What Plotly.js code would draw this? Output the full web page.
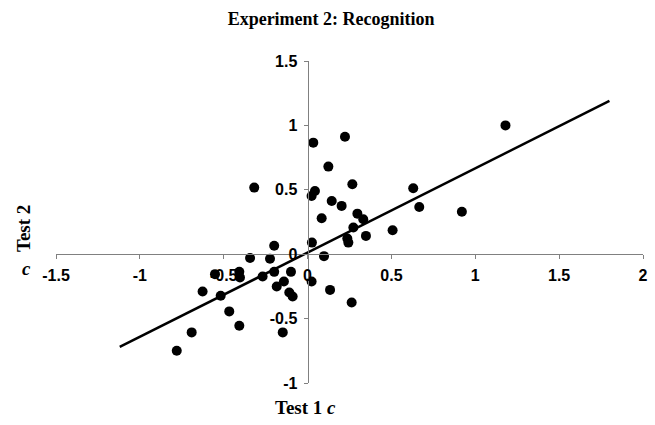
<!DOCTYPE html>
<html>
<head>
<meta charset="utf-8">
<script src="https://cdn.plot.ly/plotly-3.0.1.min.js"></script>
<style>
  html, body { margin: 0; padding: 0; background: #fff; }
  #chart { width: 655px; height: 425px; }
</style>
</head>
<body>
<div id="chart"></div>
<script>
// Test 1 c (x) and Test 2 c (y) for each participant
const test1C = [
  0.034, 0.223, 0.124, -0.318, 0.044, 0.024, 0.267, 0.144, 0.203, 0.084,
  0.297, 0.332, 0.273, 0.237, 0.243, 0.348, 0.507, 0.630, 0.666, 0.026,
  -0.199, 0.098, -0.343, -0.224,
  0.92, 1.18,
  -0.552, -0.407, -0.403, -0.268, -0.199, -0.099, 0.024, 0.134, 0.263, -0.184,
  -0.141, -0.109, -0.089, -0.626, -0.518, -0.467, -0.407, -0.148, -0.691, -0.78
];
const test2C = [
  0.866, 0.912, 0.680, 0.517, 0.491, 0.452, 0.543, 0.413, 0.375, 0.279,
  0.315, 0.271, 0.207, 0.122, 0.090, 0.142, 0.186, 0.512, 0.367, 0.090,
  0.065, -0.015, -0.030, -0.035,
  0.33, 1.00,
  -0.155, -0.137, -0.181, -0.173, -0.137, -0.137, -0.212, -0.277, -0.375, -0.251,
  -0.212, -0.297, -0.328, -0.289, -0.323, -0.444, -0.556, -0.607, -0.607, -0.75
];
// Regression line end points
const fitX = [-1.12, 1.80];
const fitY = [-0.72, 1.19];

// Axis ticks
const xTickVals = [-1.5, -1, -0.5, 0, 0.5, 1, 1.5, 2];
const xTickText = ["-1.5", "-1", "-0.5", "0", "0.5", "1", "1.5", "2"];
const yTickVals = [-1, -0.5, 0, 0.5, 1, 1.5];
const yTickText = ["-1", "-0.5", "0", "0.5", "1", "1.5"];

const tickFont = { family: "Liberation Sans, Arial, sans-serif", size: 16, color: "#000", weight: "bold" };
const serif = "Liberation Serif, Times New Roman, serif";

const traces = [
  {
    x: test1C, y: test2C, type: "scatter", mode: "markers",
    marker: { color: "#000", size: 10 },
    hoverinfo: "none"
  },
  {
    x: fitX, y: fitY, type: "scatter", mode: "lines",
    line: { color: "#000", width: 2.5 },
    hoverinfo: "none"
  }
];

const axisCommon = {
  showgrid: false, zeroline: false, showline: true,
  linecolor: "#808080", linewidth: 1,
  ticks: "outside", ticklen: 4, tickcolor: "#808080", tickwidth: 1,
  tickfont: tickFont, anchor: "free", fixedrange: true
};

const layout = {
  width: 655, height: 425,
  margin: { l: 56, r: 12, t: 61, b: 42 },
  paper_bgcolor: "#fff", plot_bgcolor: "#fff",
  showlegend: false,
  title: {
    text: "Experiment 2: Recognition",
    font: { family: serif, size: 18, color: "#000", weight: "bold" },
    x: 307 / 655, xanchor: "center", xref: "paper",
    y: 1 - 19 / 425, yanchor: "middle", yref: "container"
  },
  xaxis: Object.assign({}, axisCommon, {
    range: [-1.5, 2], tickvals: xTickVals, ticktext: xTickText,
    position: 0.4, ticklabelstandoff: 3
  }),
  yaxis: Object.assign({}, axisCommon, {
    range: [-1, 1.5], tickvals: yTickVals, ticktext: yTickText,
    position: 1.5 / 3.5, ticklabelstandoff: 3
  }),
  annotations: [
    {
      text: "Test 1 <i>c</i>", xref: "paper", yref: "paper",
      x: (305 - 56) / 587, y: (383 - 407) / 322,
      xanchor: "center", yanchor: "middle", showarrow: false,
      font: { family: serif, size: 19, color: "#000", weight: "bold" }
    },
    {
      text: "Test 2", xref: "paper", yref: "paper",
      x: (23 - 56) / 587, y: (383 - 229) / 322,
      xanchor: "center", yanchor: "middle", showarrow: false, textangle: -90,
      font: { family: serif, size: 19, color: "#000", weight: "bold" }
    },
    {
      text: "<i>c</i>", xref: "paper", yref: "paper",
      x: (26 - 56) / 587, y: (383 - 268) / 322,
      xanchor: "center", yanchor: "middle", showarrow: false,
      font: { family: serif, size: 19, color: "#000", weight: "bold" }
    }
  ]
};

Plotly.newPlot("chart", traces, layout, { displayModeBar: false, staticPlot: true });
</script>
</body>
</html>
